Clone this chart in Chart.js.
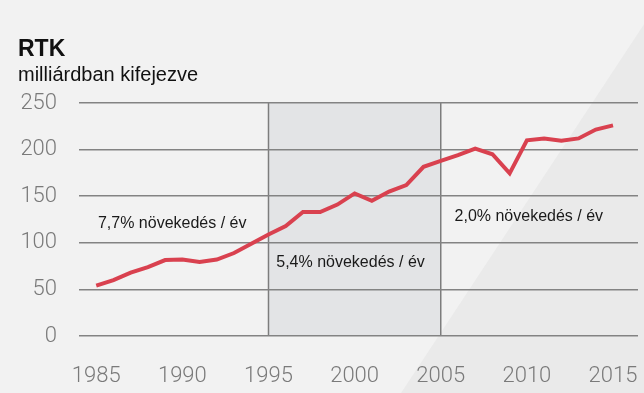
<!DOCTYPE html>
<html>
<head>
<meta charset="utf-8">
<script src="https://cdn.jsdelivr.net/npm/chart.js@4"></script>
<style>
  html, body { margin: 0; padding: 0; background: #f2f2f2; }
  #wrap { width: 644px; height: 393px; position: relative; }
</style>
</head>
<body>
<div id="wrap"><canvas id="myChart"></canvas></div>
<script>
// adatok
var years = [1985, 1986, 1987, 1988, 1989, 1990, 1991, 1992, 1993, 1994,
             1995, 1996, 1997, 1998, 1999, 2000, 2001, 2002, 2003, 2004,
             2005, 2006, 2007, 2008, 2009, 2010, 2011, 2012, 2013, 2014, 2015];
var rtk = [54, 60, 68, 74, 81.5, 82, 79.5, 82, 89, 99,
           109, 118, 133, 133, 141, 153, 145, 155, 162, 181.5,
           188, 194, 201, 195, 174.5, 210, 212, 209.5, 212, 221.5, 226];
var xTicks = [1985, 1990, 1995, 2000, 2005, 2010, 2015];
var yTicks = [0, 50, 100, 150, 200, 250];
var band = [1995, 2005];
var notes = ["7,7% növekedés / év", "5,4% növekedés / év", "2,0% növekedés / év"];
var noteX = [1985.1, 1995.45, 2005.8];
var noteY = [121, 79, 128];

var points = years.map(function (y, i) { return { x: y, y: rtk[i] }; });

// háttér, szürke sáv, feliratok
var bgPlugin = {
  id: "bg",
  beforeDraw: function (chart) {
    var ctx = chart.ctx, w = chart.width, h = chart.height;
    var xs = chart.scales.x, ys = chart.scales.y;
    ctx.save();
    ctx.fillStyle = "#f2f2f2";
    ctx.fillRect(0, 0, w, h);
    ctx.fillStyle = "#eaeaea";
    ctx.beginPath();
    ctx.moveTo(660, 0);
    ctx.lineTo(w, 0);
    ctx.lineTo(w, h);
    ctx.lineTo(401, h);
    ctx.closePath();
    ctx.fill();

    var x1 = xs.getPixelForValue(band[0]), x2 = xs.getPixelForValue(band[1]);
    var top = ys.getPixelForValue(250), bottom = ys.getPixelForValue(0);
    ctx.fillStyle = "#e3e4e6";
    ctx.fillRect(x1, top, x2 - x1, bottom - top);
    ctx.strokeStyle = "#7d7d7d";
    ctx.lineWidth = 1.5;
    [x1, x2].forEach(function (x) {
      ctx.beginPath();
      ctx.moveTo(x, top);
      ctx.lineTo(x, bottom);
      ctx.stroke();
    });
    ctx.restore();
  },
  beforeDatasetsDraw: function (chart) {
    var ctx = chart.ctx, xs = chart.scales.x, ys = chart.scales.y;
    ctx.save();
    ctx.fillStyle = "#1a1a1a";
    ctx.font = "16px 'Liberation Sans', Arial, sans-serif";
    ctx.textAlign = "left";
    ctx.textBaseline = "middle";
    notes.forEach(function (t, i) {
      ctx.fillText(t, xs.getPixelForValue(noteX[i]), ys.getPixelForValue(noteY[i]));
    });
    ctx.restore();
  }
};

new Chart("myChart", {
  type: "line",
  data: {
    datasets: [{
      data: points,
      borderColor: "#d9414f",
      borderWidth: 4,
      pointRadius: 0,
      tension: 0,
      fill: false
    }]
  },
  options: {
    responsive: true,
    maintainAspectRatio: false,
    animation: false,
    layout: { padding: { left: 18, right: 6, top: 0, bottom: 0 } },
    plugins: {
      legend: { display: false },
      tooltip: { enabled: false },
      title: {
        display: true,
        text: "RTK",
        align: "start",
        color: "#111",
        font: { family: "'Liberation Sans', Arial, sans-serif", size: 23, weight: "bold", lineHeight: 1.2 },
        padding: { top: 36, bottom: 0 }
      },
      subtitle: {
        display: true,
        text: "milliárdban kifejezve",
        align: "start",
        color: "#111",
        font: { family: "'Liberation Sans', Arial, sans-serif", size: 20, lineHeight: 1.2 },
        padding: { top: 0, bottom: 15.4 }
      }
    },
    scales: {
      x: {
        type: "linear",
        min: 1984,
        max: 2016.45,
        afterBuildTicks: function (s) { s.ticks = xTicks.map(function (v) { return { value: v }; }); },
        afterFit: function (s) { s.height = 57; },
        grid: { display: false, drawTicks: false },
        border: { display: false },
        ticks: {
          color: "#7a7a7a",
          padding: 0,
          maxRotation: 0,
          font: { family: "Roboto, 'Liberation Sans', sans-serif", size: 22, weight: 300, lineHeight: 3.64 },
          callback: function (v) { return String(v); }
        }
      },
      y: {
        min: 0,
        max: 250,
        afterBuildTicks: function (s) { s.ticks = yTicks.map(function (v) { return { value: v }; }); },
        afterFit: function (s) { s.width = 61; },
        grid: { color: "#838383", lineWidth: 1.5, drawTicks: false },
        border: { display: false },
        ticks: {
          color: "#7a7a7a",
          padding: 22,
          font: { family: "Roboto, 'Liberation Sans', sans-serif", size: 22, weight: 300 }
        }
      }
    }
  },
  plugins: [bgPlugin]
});
</script>
</body>
</html>
